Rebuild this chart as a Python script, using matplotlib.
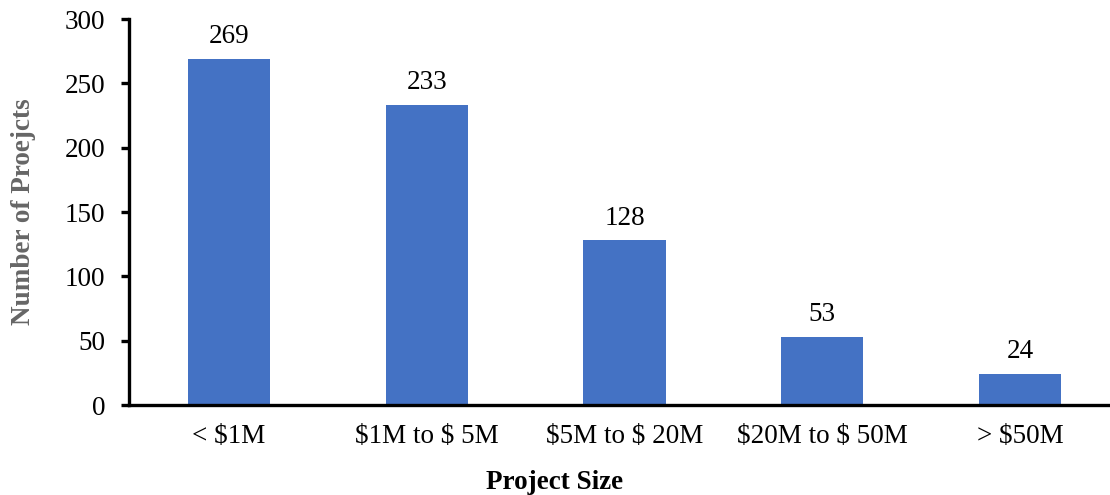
import matplotlib
matplotlib.use("Agg")
import matplotlib.pyplot as plt

categories = ["< $1M", "$1M to $ 5M", "$5M to $ 20M", "$20M to $ 50M", "> $50M"]
projects = [269, 233, 128, 53, 24]
y_ticks = [0, 50, 100, 150, 200, 250, 300]

plt.rcParams["font.family"] = ["Liberation Serif", "DejaVu Serif"]
plt.rcParams["text.parse_math"] = False

fig = plt.figure(figsize=(11.1, 4.95), dpi=100)
ax = fig.add_axes([0.1162, 0.1818, 0.8838, 0.7798])

x = list(range(len(categories)))
ax.bar(x, projects, width=0.416, color="#4472C4", zorder=2)

for xi, v in zip(x, projects):
    ax.annotate(str(v), (xi, v), xytext=(0, 7), textcoords="offset points",
                ha="center", va="bottom", fontsize=19.5, color="black")

ax.set_xlim(-0.5057, 4.455)
ax.set_ylim(0, 300)
ax.set_yticks(y_ticks)
ax.set_xticks(x)
ax.set_xticklabels(categories)

for side in ("top", "right"):
    ax.spines[side].set_visible(False)
for side in ("left", "bottom"):
    ax.spines[side].set_linewidth(2.4)
    ax.spines[side].set_color("black")

ax.tick_params(axis="y", direction="out", length=6, width=2.4, labelsize=19.5, pad=11)
ax.tick_params(axis="x", length=0, labelsize=19.5, pad=14)

# the axis title sits at the horizontal centre of the whole figure
ax.set_xlabel("Project Size", fontsize=19.5, fontweight="bold", labelpad=15,
              x=(0.5 - 0.1162) / 0.8838)
ax.set_ylabel("Number of Proejcts", fontsize=19.5, fontweight="bold",
              color="#666666", labelpad=21)

fig.savefig("out.png", dpi=100)
